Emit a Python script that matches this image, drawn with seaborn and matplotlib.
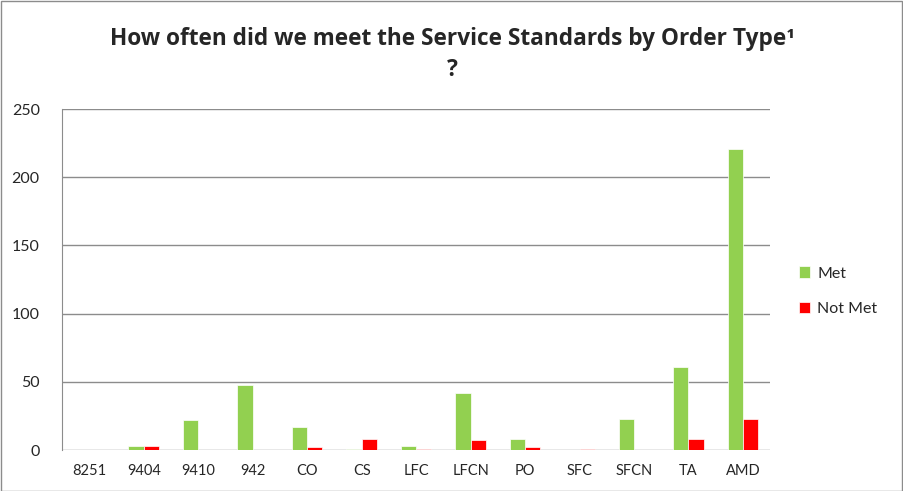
import pandas as pd
import matplotlib.pyplot as plt
import seaborn as sns
from matplotlib.patches import Rectangle

# data
order_types = ['8251', '9404', '9410', '942', 'CO', 'CS', 'LFC', 'LFCN',
               'PO', 'SFC', 'SFCN', 'TA', 'AMD']
met = [0, 3, 22, 48, 17, 0.5, 3, 42, 8, 0, 23, 61, 221]
not_met = [0, 3, 0, 0, 2, 8, 0.5, 7, 2, 0.5, 0, 8, 23]

df = pd.DataFrame({
    'Order Type': order_types * 2,
    'Count': met + not_met,
    'Status': ['Met'] * len(order_types) + ['Not Met'] * len(order_types),
})

sns.set_style('white')
plt.rcParams['font.family'] = ['Lato', 'DejaVu Sans']

fig = plt.figure(figsize=(9.04, 4.91), dpi=100)
ax = fig.add_axes([0.0686, 0.0835, 0.7834, 0.6945])

sns.barplot(data=df, x='Order Type', y='Count', hue='Status',
            palette={'Met': '#92D050', 'Not Met': '#FF0000'}, saturation=1,
            width=0.56, gap=0, ax=ax, edgecolor='white', linewidth=0.5)

ax.set_ylim(0, 250)
ax.set_yticks(range(0, 251, 50))
ax.set_xlim(-0.5, len(order_types) - 0.5)
ax.yaxis.grid(True, color='#8c8c8c', linewidth=1)
ax.set_axisbelow(True)
for side in ['top', 'right', 'bottom']:
    ax.spines[side].set_visible(False)
ax.spines['left'].set_color('#8c8c8c')
ax.set_xlabel('')
ax.set_ylabel('')
ax.tick_params(axis='x', labelsize=10.5, length=0, pad=10)
ax.tick_params(axis='y', labelsize=11.5, length=0, pad=16)

leg = ax.legend(loc='center left', bbox_to_anchor=(1.02, 0.465), frameon=False,
                fontsize=11.5, handlelength=0.7, handleheight=0.7,
                handletextpad=0.45, labelspacing=1.35)

title_font = ['Open Sans', 'DejaVu Sans']
fig.text(0.5, 0.921, 'How often did we meet the Service Standards by Order Type\u00b9',
         ha='center', va='center', fontsize=16.3, fontweight='bold', family=title_font)
fig.text(0.5, 0.858, '?', ha='center', va='center', fontsize=16.3, fontweight='bold',
         family=title_font)

fig.patches.append(Rectangle((0.001, 0.001), 0.997, 0.997, transform=fig.transFigure,
                             fill=False, edgecolor='#8c8c8c', linewidth=1))

fig.savefig('out.png', dpi=100)
